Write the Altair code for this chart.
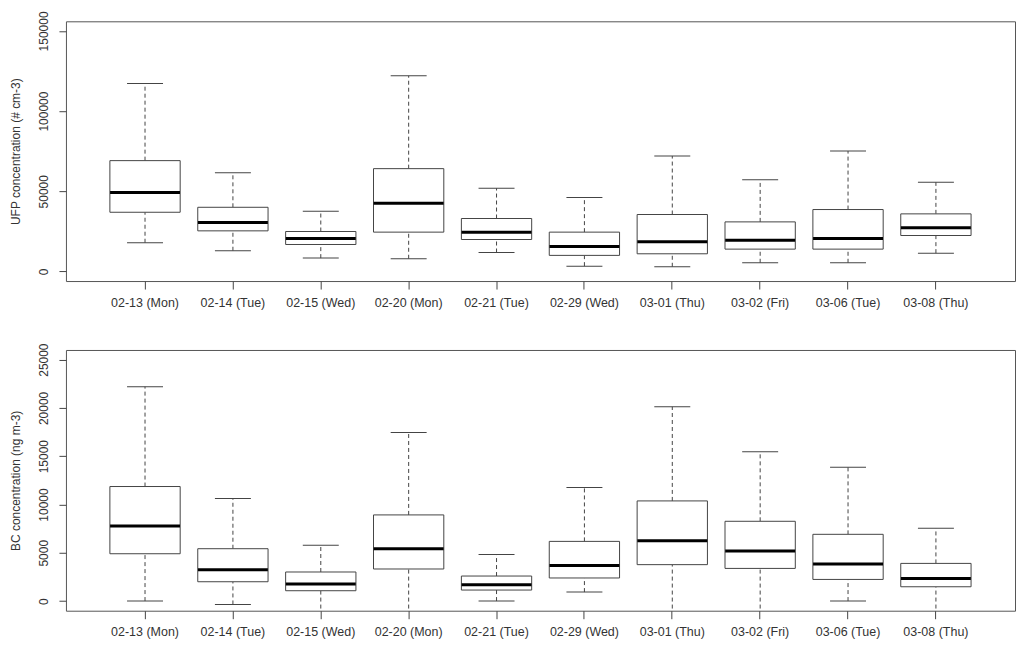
import altair as alt
import pandas as pd

dates = ["02-13 (Mon)", "02-14 (Tue)", "02-15 (Wed)", "02-20 (Mon)", "02-21 (Tue)",
         "02-29 (Wed)", "03-01 (Thu)", "03-02 (Fri)", "03-06 (Tue)", "03-08 (Thu)"]

# UFP concentration (# cm-3): whisker low, Q1, median, Q3, whisker high
ufp_lo = [17900, 12900, 8300, 7900, 11800, 3300, 2900, 5400, 5400, 11400]
ufp_q1 = [36900, 25300, 16800, 24500, 19900, 10000, 11000, 13900, 13900, 22400]
ufp_med = [49200, 30500, 20500, 42500, 24500, 15600, 18500, 19500, 20500, 27200]
ufp_q3 = [69100, 40000, 24900, 64100, 33000, 24500, 35500, 30900, 38600, 35900]
ufp_hi = [117200, 61600, 37600, 122000, 51900, 46100, 72000, 57100, 75100, 55600]

# BC concentration (ng m-3)
bc_lo = [0, -350, -1500, -1500, 0, 930, -1500, -1500, 0, -1500]
bc_q1 = [4900, 2000, 1070, 3320, 1140, 2390, 3770, 3380, 2240, 1480]
bc_med = [7780, 3250, 1760, 5420, 1690, 3690, 6250, 5190, 3840, 2340]
bc_q3 = [11860, 5420, 3010, 8920, 2590, 6180, 10370, 8260, 6910, 3900]
bc_hi = [22200, 10610, 5770, 17460, 4830, 11750, 20120, 15450, 13860, 7530]

ufp_ticks = [0, 50000, 100000, 150000]
bc_ticks = [0, 5000, 10000, 15000, 20000, 25000]

FONT = "Liberation Sans"
TXT = "#333333"
LINE = "#444444"


def frame(lo, q1, med, q3, hi):
    return pd.DataFrame({"date": dates, "lo": lo, "q1": q1, "med": med, "q3": q3, "hi": hi})


def panel(df, title, domain, ticks, h):
    xs = alt.X("date:N", sort=dates, title=None,
               scale=alt.Scale(paddingInner=0.2, paddingOuter=0.5),
               axis=alt.Axis(labelAngle=0, domain=False, tickSize=8, tickColor=LINE,
                             labelPadding=7, labelFontSize=12.5, labelFont=FONT,
                             labelColor=TXT, grid=False))
    ysc = alt.Scale(domain=domain, nice=False, zero=False)
    yax = alt.Axis(values=ticks, format="d", labelAngle=270, labelAlign="center",
                   labelBaseline="bottom", tickSize=7, tickColor=LINE, domain=False,
                   grid=False, title=title, labelPadding=8, labelFontSize=12,
                   labelFont=FONT, labelColor=TXT, titleFont=FONT, titleFontSize=12,
                   titleFontWeight="normal", titleColor=TXT, titlePadding=15)

    def Y(f):
        return alt.Y(f, type="quantitative", scale=ysc, axis=yax)

    base = alt.Chart(df)
    w_hi = base.mark_rule(strokeDash=[4, 3], color=LINE, strokeWidth=1, clip=True).encode(
        x=xs, y=Y("q3"), y2="hi")
    w_lo = base.mark_rule(strokeDash=[4, 3], color=LINE, strokeWidth=1, clip=True).encode(
        x=xs, y=Y("lo"), y2="q1")
    c_hi = base.mark_tick(size=36, thickness=1, color=LINE, clip=True, opacity=1).encode(
        x=xs, y=Y("hi"))
    c_lo = base.mark_tick(size=36, thickness=1, color=LINE, clip=True, opacity=1).encode(
        x=xs, y=Y("lo"))
    box = base.mark_bar(fill="white", stroke=LINE, strokeWidth=1, clip=True).encode(
        x=xs, y=Y("q1"), y2="q3")
    med = base.mark_tick(size=70, thickness=3, color="black", opacity=1).encode(
        x=xs, y=Y("med"))
    return alt.layer(w_hi, w_lo, c_hi, c_lo, box, med).properties(width=950, height=h)


top = panel(frame(ufp_lo, ufp_q1, ufp_med, ufp_q3, ufp_hi),
            "UFP concentration (# cm-3)", [-6000, 156000], ufp_ticks, 260)
bottom = panel(frame(bc_lo, bc_q1, bc_med, bc_q3, bc_hi),
               "BC concentration (ng m-3)", [-1000, 26000], bc_ticks, 261)

chart = alt.vconcat(top, bottom, spacing=69, bounds="flush").configure_view(
    stroke="#555555", strokeWidth=1).properties(
    padding={"left": 1, "top": 2, "right": 0, "bottom": 0},
    background="white")

chart.save("out.html", embed_options={"renderer": "svg", "actions": False})
